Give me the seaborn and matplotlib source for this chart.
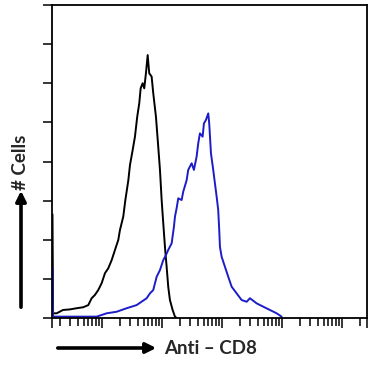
import matplotlib
matplotlib.use("Agg")
import matplotlib.pyplot as plt
from matplotlib.ticker import LogLocator, NullFormatter, FixedLocator
import seaborn as sns
import numpy as np
import pandas as pd

sns.set_style("ticks")
plt.rcParams['font.family'] = ['Lato', 'DejaVu Sans']

# log10 of fluorescence intensity, and cell counts
black_log = [0.18, 0.19, 0.25, 0.355, 0.472, 0.583, 0.693, 0.777, 0.833, 0.888, 0.943,
             1.000, 1.055, 1.110, 1.167, 1.222, 1.277, 1.305, 1.360, 1.395, 1.445,
             1.472, 1.517, 1.555, 1.593, 1.627, 1.650, 1.683, 1.710, 1.738, 1.767,
             1.793, 1.833, 1.860, 1.905, 1.943, 1.972, 2.000, 2.027, 2.055, 2.083,
             2.110, 2.138, 2.183, 2.222, 2.250]
black_count = [53, 2.4, 2.4, 4.1, 4.4, 5.0, 5.5, 6.6, 10.1, 11.8, 14.3,
               17.8, 22.9, 25.4, 29.6, 34.8, 39.9, 45.0, 51.8, 60.3, 70.5,
               78.2, 85.9, 92.7, 102.9, 109.8, 117.4, 120.0, 117.4, 125.1, 134.4,
               125.1, 123.4, 114.9, 102.9, 87.6, 75.7, 60.3, 48.4, 36.4, 26.2,
               15.9, 9.2, 4.1, 0.7, 0]

blue_log = [0.18, 0.19, 0.917, 1.083, 1.25, 1.417, 1.583, 1.75, 1.805, 1.86,
            1.917, 1.972, 2.027, 2.072, 2.11, 2.167, 2.205, 2.222, 2.25, 2.277,
            2.333, 2.36, 2.417, 2.443, 2.5, 2.538, 2.583, 2.61, 2.638, 2.683,
            2.705, 2.738, 2.777, 2.793, 2.822, 2.86, 2.888, 2.917, 2.943, 2.96,
            2.972, 3.0, 3.055, 3.11, 3.167, 3.25, 3.333, 3.417, 3.472, 3.583,
            3.693, 3.805, 3.917, 4.0]
blue_count = [26.1, 0.7, 0.7, 2.4, 3.2, 5.0, 6.6, 10.1, 12.6, 14.3,
              21.1, 24.5, 29.6, 32.2, 34.8, 38.2, 46.7, 51.8, 56.2, 61.2,
              60.3, 64.6, 70.5, 75.7, 79.1, 75.7, 82.5, 89.3, 94.4, 92.7,
              99.5, 101.2, 104.6, 99.5, 84.2, 75.7, 68.9, 62.0, 55.2, 45.0,
              36.4, 31.3, 26.2, 21.1, 16.0, 12.6, 9.2, 8.3, 10.1, 7.5,
              5.8, 4.1, 2.4, 0.7]

x_min, x_max = 10 ** 0.172, 262144
y_max = 160

df_black = pd.DataFrame({"intensity": 10 ** np.array(black_log), "count": black_count})
df_blue = pd.DataFrame({"intensity": 10 ** np.array(blue_log), "count": blue_count})

fig = plt.figure(figsize=(3.70, 3.75), dpi=100)
ax = fig.add_axes([52 / 370, 1 - 318 / 375, (366.7 - 52) / 370, (318 - 5) / 375])

sns.lineplot(data=df_black, x="intensity", y="count", ax=ax, color="black",
             lw=1.4, sort=False)
sns.lineplot(data=df_blue, x="intensity", y="count", ax=ax, color="#1c1cc8",
             lw=1.4, sort=False)

ax.set_xscale("log")
ax.set_xlim(x_min, x_max)
ax.set_ylim(0, y_max)
ax.xaxis.set_major_locator(FixedLocator([x_min, 10, 100, 1e3, 1e4, 1e5, x_max]))
ax.xaxis.set_minor_locator(LogLocator(base=10, subs=np.arange(2, 10), numticks=20))
ax.xaxis.set_major_formatter(NullFormatter())
ax.xaxis.set_minor_formatter(NullFormatter())
ax.set_yticks(np.linspace(0, y_max, 9))
ax.set_yticklabels([])
ax.tick_params(axis="x", which="major", length=7.5, width=1.1, color="black")
ax.tick_params(axis="x", which="minor", length=5.5, width=1.1, color="black")
ax.tick_params(axis="y", which="major", length=6.5, width=1.1, color="black")
ax.set_xlabel("")
ax.set_ylabel("")
for s in ax.spines.values():
    s.set_visible(True)
    s.set_color("black")
    s.set_linewidth(1.3)

# axis labels with arrows
ax.annotate("", xy=(21, 187), xytext=(21, 65), xycoords="figure pixels",
            textcoords="figure pixels",
            arrowprops=dict(arrowstyle="-|>", lw=2.6, color="black", mutation_scale=15))
ax.annotate("", xy=(159, 27), xytext=(55, 27), xycoords="figure pixels",
            textcoords="figure pixels",
            arrowprops=dict(arrowstyle="-|>", lw=2.6, color="black", mutation_scale=15))
fig.text(21 / 370, (375 - 162) / 375, "# Cells", rotation=90, ha="center",
         va="center", fontsize=13.5, fontweight="bold")
fig.text(164 / 370, 27 / 375, "Anti \u2013 CD8", ha="left", va="center",
         fontsize=13.5, fontweight="bold")

fig.savefig("out.png", dpi=100)
